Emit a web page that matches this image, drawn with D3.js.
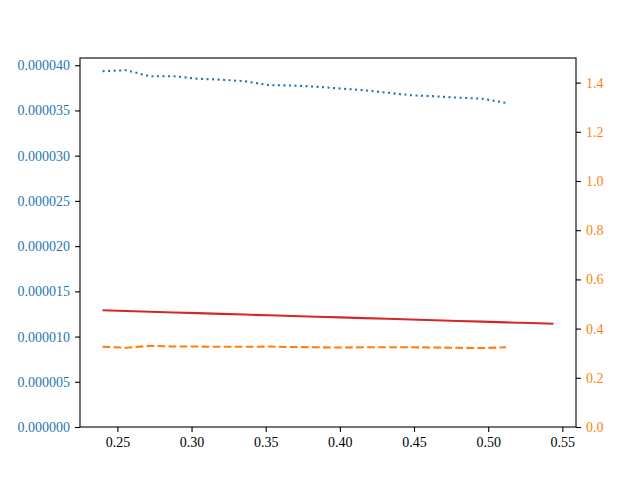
<!DOCTYPE html>
<html>
<head>
<meta charset="utf-8">
<script src="https://cdn.jsdelivr.net/npm/d3@7"></script>
<style>
  body { margin: 0; background: #fff; }
  svg { display: block; font-family: "Liberation Serif", serif; }
  .tick text { font-size: 14px; }
</style>
</head>
<body>
<svg id="chart" width="640" height="480"></svg>
<script>
// data
var xBlue = [0.240, 0.256, 0.272, 0.288, 0.304, 0.320, 0.336, 0.352, 0.368, 0.384,
             0.400, 0.416, 0.432, 0.448, 0.464, 0.480, 0.496, 0.512];
var blueVals = [3.934e-5, 3.945e-5, 3.878e-5, 3.878e-5, 3.851e-5, 3.840e-5, 3.823e-5, 3.780e-5, 3.776e-5, 3.763e-5,
                3.743e-5, 3.724e-5, 3.696e-5, 3.668e-5, 3.657e-5, 3.641e-5, 3.630e-5, 3.584e-5];
var orangeVals = [0.326, 0.322, 0.330, 0.327, 0.327, 0.326, 0.326, 0.327, 0.325, 0.324,
                  0.323, 0.324, 0.324, 0.324, 0.323, 0.322, 0.321, 0.324];
var xRed = [0.240, 0.256, 0.272, 0.288, 0.304, 0.320, 0.336, 0.352, 0.368, 0.384,
            0.400, 0.416, 0.432, 0.448, 0.464, 0.480, 0.496, 0.512, 0.528, 0.544];
var redVals = [1.290e-5, 1.282e-5, 1.274e-5, 1.266e-5, 1.259e-5, 1.251e-5, 1.243e-5, 1.235e-5, 1.227e-5, 1.219e-5,
               1.212e-5, 1.204e-5, 1.196e-5, 1.188e-5, 1.180e-5, 1.172e-5, 1.165e-5, 1.157e-5, 1.149e-5, 1.141e-5];
var xTicks = [0.25, 0.30, 0.35, 0.40, 0.45, 0.50, 0.55];
var leftTicks = [0, 0.000005, 0.00001, 0.000015, 0.00002, 0.000025, 0.00003, 0.000035, 0.00004];
var rightTicks = [0, 0.2, 0.4, 0.6, 0.8, 1.0, 1.2, 1.4];

var margin = {left: 80, right: 64, top: 58, bottom: 53};
var width = 640 - margin.left - margin.right;
var height = 480 - margin.top - margin.bottom;

var svg = d3.select("#chart");
var g = svg.append("g").attr("transform", "translate(" + margin.left + "," + margin.top + ")");

var x = d3.scaleLinear().domain([0.2248, 0.5592]).range([0, width]);
var yL = d3.scaleLinear().domain([0, 0.0000408]).range([height, 0]);
var yR = d3.scaleLinear().domain([0, 1.5]).range([height, 0]);

// lines
var blueLine = d3.line().x(function(d, i) { return x(xBlue[i]); }).y(function(d) { return yL(d); });
var orangeLine = d3.line().x(function(d, i) { return x(xBlue[i]); }).y(function(d) { return yR(d); });
var redLine = d3.line().x(function(d, i) { return x(xRed[i]); }).y(function(d) { return yL(d); });

g.append("path").datum(blueVals).attr("d", blueLine)
  .attr("fill", "none").attr("stroke", "#1f77b4").attr("stroke-width", 2.08)
  .attr("stroke-dasharray", "2.08,3.44");
g.append("path").datum(redVals).attr("d", redLine)
  .attr("fill", "none").attr("stroke", "#d62728").attr("stroke-width", 2.08);
g.append("path").datum(orangeVals).attr("d", orangeLine)
  .attr("fill", "none").attr("stroke", "#ff7f0e").attr("stroke-width", 2.08)
  .attr("stroke-dasharray", "7.7,3.33");

// axes
var xAxis = d3.axisBottom(x).tickValues(xTicks).tickFormat(d3.format(".2f"))
  .tickSizeInner(4.9).tickSizeOuter(0).tickPadding(5);
var leftAxis = d3.axisLeft(yL).tickValues(leftTicks).tickFormat(function(d) { return d.toFixed(6); })
  .tickSizeInner(4.9).tickSizeOuter(0).tickPadding(5);
var rightAxis = d3.axisRight(yR).tickValues(rightTicks).tickFormat(d3.format(".1f"))
  .tickSizeInner(4.9).tickSizeOuter(0).tickPadding(5);

var gx = g.append("g").attr("transform", "translate(0," + height + ")").call(xAxis);
var gl = g.append("g").call(leftAxis);
var gr = g.append("g").attr("transform", "translate(" + width + ",0)").call(rightAxis);

[gx, gl, gr].forEach(function(a) {
  a.select(".domain").remove();
  a.selectAll(".tick line").attr("stroke", "#000").attr("stroke-width", 1.1);
  a.selectAll(".tick text").attr("font-family", "Liberation Serif, serif").attr("font-size", 14);
});
gx.selectAll(".tick text").attr("fill", "#000");
gl.selectAll(".tick text").attr("fill", "#1f77b4");
gr.selectAll(".tick text").attr("fill", "#ff7f0e");

// frame
g.append("rect").attr("x", 0).attr("y", 0).attr("width", width).attr("height", height)
  .attr("fill", "none").attr("stroke", "#000").attr("stroke-width", 1.1);
</script>
</body>
</html>
